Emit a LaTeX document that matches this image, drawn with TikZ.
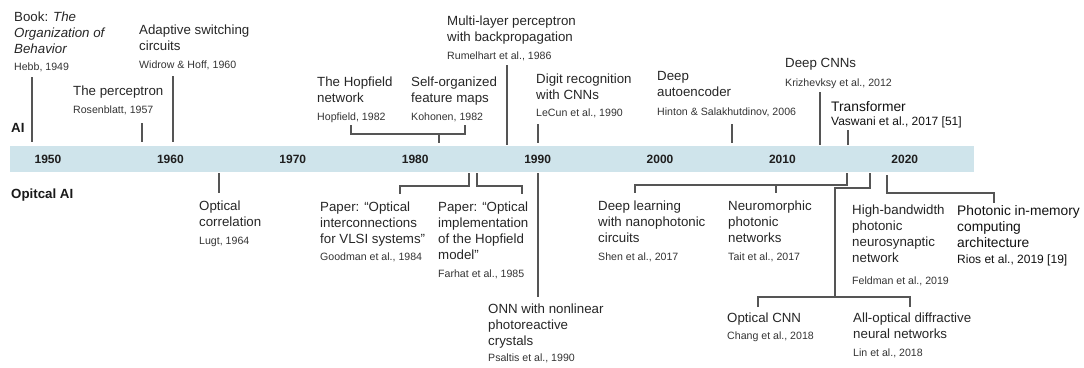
\documentclass[tikz,border=0pt]{standalone}
\usepackage{fontspec}
\setmainfont{Liberation Sans}
\definecolor{tgray}{HTML}{262626}
\definecolor{rgray}{HTML}{333333}
\definecolor{lgray}{HTML}{555555}
\definecolor{tblack}{HTML}{111111}
\definecolor{barblue}{RGB}{207,228,235}
\tikzset{
 ttl/.style={anchor=north west, inner sep=0pt, align=left, text=tgray, font=\fontsize{13.3}{15.8}\selectfont},
 refl/.style={anchor=north west, inner sep=0pt, align=left, text=rgray, font=\fontsize{10.6}{12}\selectfont},
 ttlb/.style={anchor=north west, inner sep=0pt, align=left, text=tblack, font=\fontsize{13.8}{16}\selectfont},
 refb/.style={anchor=north west, inner sep=0pt, align=left, text=tblack, font=\fontsize{12}{14}\selectfont},
 ln/.style={draw=lgray, line width=1.2pt},
 yr/.style={inner sep=0pt, text=black!88, font=\bfseries\fontsize{12}{14}\selectfont},
 lab/.style={anchor=north west, inner sep=0pt, text=black!90, font=\bfseries\fontsize{13.3}{15}\selectfont},
 barstyle/.style={fill=barblue, draw=none, minimum width=964pt, minimum height=26pt, inner sep=0pt}
}
\begin{document}
\begin{tikzpicture}[x=1pt,y=-1pt]
\useasboundingbox (0,0) rectangle (1084,367);
% timeline bar
\node[barstyle] (bar) at (492,159) {};
\foreach \yv [count=\i from 0] in {1950,1960,1970,1980,1990,2000,2010,2020}
  \node[yr] (y\yv) at (48+122.4*\i,159.5) {\yv};
\node[lab] (ai) at (11,123) {AI};
\node[lab] (oai) at (11,189) {Opitcal AI};

% ---------- AI (above) ----------
\node[ttl] (hebbT) at (14,12) {Book: \textit{The}\\\textit{Organization of}\\\textit{Behavior}};
\node[refl] (hebbR) at (14,63) {Hebb, 1949};
\coordinate (hebbA) at (32,77); \coordinate (hebbB) at (32,142);
\draw[ln] (hebbA) -- (hebbB);

\node[ttl] (percT) at (73,86) {The perceptron};
\node[refl] (percR) at (73,106) {Rosenblatt, 1957};
\coordinate (percA) at (142,123); \coordinate (percB) at (142,142);
\draw[ln] (percA) -- (percB);

\node[ttl] (adaT) at (139,25) {Adaptive switching\\circuits};
\node[refl] (adaR) at (139,61) {Widrow \& Hoff, 1960};
\coordinate (adaA) at (173,76); \coordinate (adaB) at (173,142);
\draw[ln] (adaA) -- (adaB);

\node[ttl] (hopT) at (317,77) {The Hopfield\\network};
\node[refl] (hopR) at (317,113) {Hopfield, 1982};
\node[ttl] (kohT) at (411,77) {Self-organized\\feature maps};
\node[refl] (kohR) at (411,113) {Kohonen, 1982};
\coordinate (hopA) at (351,125); \coordinate (kohA) at (465,125);
\coordinate (hkM) at (439,134); \coordinate (hkB) at (439,143);
\draw[ln] (hopA) |- (hkM) -| (kohA);
\draw[ln] (hkM) -- (hkB);

\node[ttl] (mlpT) at (447,16) {Multi-layer perceptron\\with backpropagation};
\node[refl] (mlpR) at (447,52) {Rumelhart et al., 1986};
\coordinate (mlpA) at (507,65); \coordinate (mlpB) at (507,145);
\draw[ln] (mlpA) -- (mlpB);

\node[ttl] (digT) at (536,74) {Digit recognition\\with CNNs};
\node[refl] (digR) at (536,109) {LeCun et al., 1990};
\coordinate (digA) at (538,124); \coordinate (digB) at (538,143);
\draw[ln] (digA) -- (digB);

\node[ttl] (aeT) at (657,71) {Deep\\autoencoder};
\node[refl] (aeR) at (657,108) {Hinton \& Salakhutdinov, 2006};
\coordinate (aeA) at (732,124); \coordinate (aeB) at (732,143);
\draw[ln] (aeA) -- (aeB);

\node[ttl] (cnnT) at (785,58) {Deep CNNs};
\node[refl] (cnnR) at (785,79) {Krizhevksy et al., 2012};
\coordinate (cnnA) at (820,92); \coordinate (cnnB) at (820,145);
\draw[ln] (cnnA) -- (cnnB);

\node[ttlb] (trT) at (831,101) {Transformer};
\node[refb] (trR) at (831,117) {Vaswani et al., 2017 [51]};
\coordinate (trA) at (848,130); \coordinate (trB) at (848,145);
\draw[ln] (trA) -- (trB);

% ---------- Optical AI (below) ----------
\node[ttl] (corT) at (199,201) {Optical\\correlation};
\node[refl] (corR) at (199,237) {Lugt, 1964};
\coordinate (corA) at (219,173); \coordinate (corB) at (219,193);
\draw[ln] (corA) -- (corB);

\node[ttl] (gooT) at (320,202) {Paper: “Optical\\interconnections\\for VLSI systems”};
\node[refl] (gooR) at (320,253) {Goodman et al., 1984};
\coordinate (gooA) at (469,173); \coordinate (gooB) at (400,194);
\draw[ln] (gooA) |- (400,186) -- (gooB);

\node[ttl] (farT) at (438,202) {Paper: “Optical\\implementation\\of the Hopfield\\model”};
\node[refl] (farR) at (438,270) {Farhat et al., 1985};
\coordinate (farA) at (477,173); \coordinate (farB) at (522,194);
\draw[ln] (farA) |- (522,186) -- (farB);

\node[ttl] (onnT) at (488,304) {ONN with nonlinear\\photoreactive\\crystals};
\node[refl] (onnR) at (488,354) {Psaltis et al., 1990};
\coordinate (onnA) at (538,173); \coordinate (onnB) at (538,297);
\draw[ln] (onnA) -- (onnB);

\node[ttl] (shenT) at (598,201) {Deep learning\\with nanophotonic\\circuits};
\node[refl] (shenR) at (598,253) {Shen et al., 2017};
\node[ttl] (taitT) at (728,201) {Neuromorphic\\photonic\\networks};
\node[refl] (taitR) at (728,253) {Tait et al., 2017};
\coordinate (stA) at (847,173); \coordinate (stM) at (776,185);
\coordinate (shenB) at (635,193); \coordinate (taitB) at (776,193);
\draw[ln] (stA) |- (635,185) -- (shenB);
\draw[ln] (stM) -- (taitB);

\node[ttl] (felT) at (852,205) {High-bandwidth\\photonic\\neurosynaptic\\network};
\node[refl] (felR) at (852,277) {Feldman et al., 2019};

\node[ttlb] (rioT) at (957,205) {Photonic in-memory\\computing\\architecture};
\node[refb] (rioR) at (957,255) {Rios et al., 2019 [19]};
\coordinate (rioA) at (887,175); \coordinate (rioB) at (994,203);
\draw[ln] (rioA) |- (994,193) -- (rioB);

\node[ttl] (ocnT) at (727,313) {Optical CNN};
\node[refl] (ocnR) at (727,332) {Chang et al., 2018};
\node[ttl] (allT) at (853,313) {All-optical diffractive\\neural networks};
\node[refl] (allR) at (853,349) {Lin et al., 2018};
\coordinate (n18A) at (870,173); \coordinate (n18M) at (835,297);
\coordinate (ocnB) at (758,307); \coordinate (allB) at (910,307);
\draw[ln] (n18A) |- (835,188) -- (n18M);
\draw[ln] (ocnB) |- (n18M) -| (allB);
\end{tikzpicture}
\end{document}
